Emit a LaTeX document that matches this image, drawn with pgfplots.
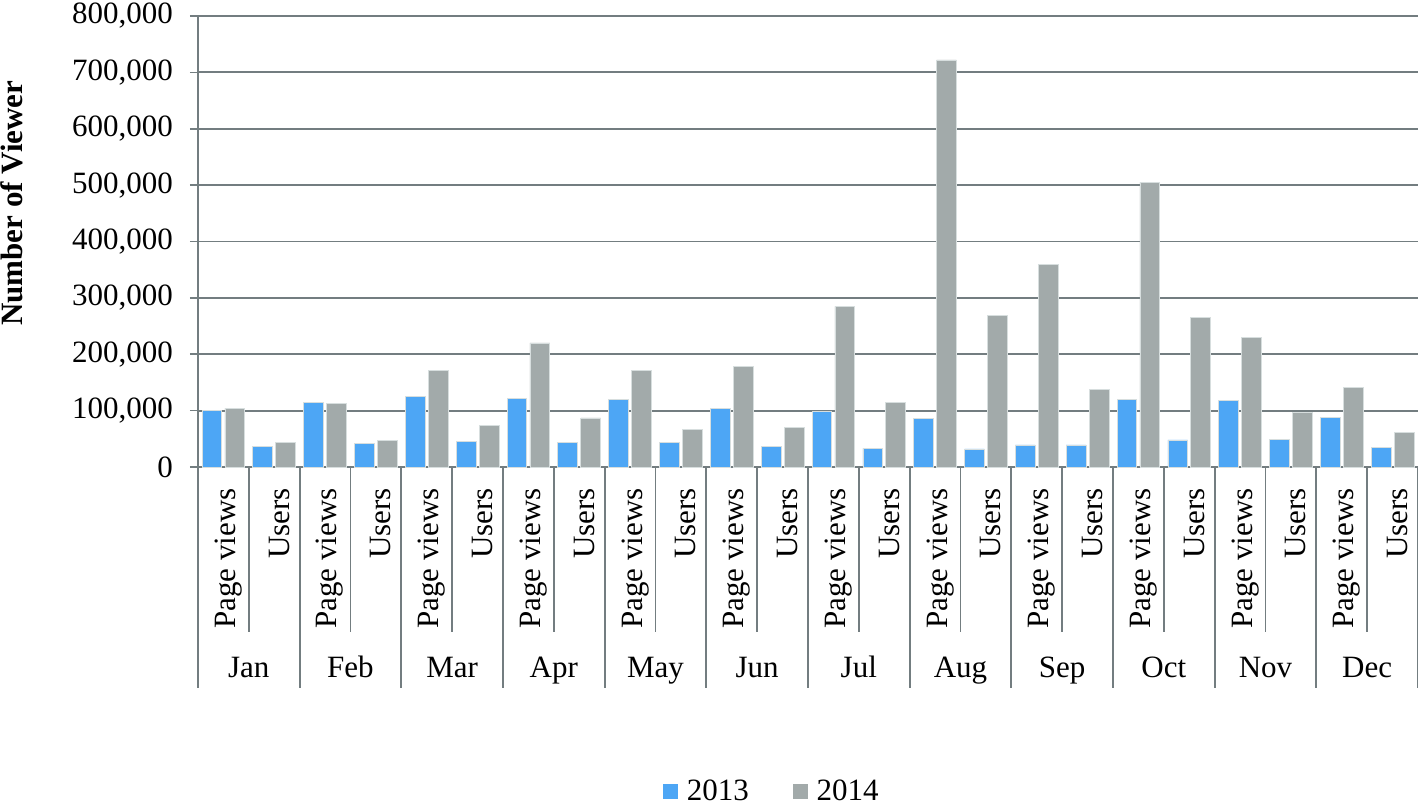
\documentclass[border=0pt]{standalone}
\usepackage{fontspec}
\setmainfont{Liberation Serif}
\usepackage{pgfplots}
\pgfplotsset{compat=1.18}
\definecolor{cblue}{RGB}{77,166,245}
\definecolor{cgray}{RGB}{162,170,170}
\definecolor{cgrid}{RGB}{115,125,128}
\definecolor{cedge}{RGB}{215,222,222}
\begin{document}
\begin{tikzpicture}[font=\fontsize{15.5}{18}\selectfont]
\begin{axis}[
  width=610pt, height=225.5pt, scale only axis,
  clip=false,
  xmin=-0.5, xmax=23.5, ymin=0, ymax=800000,
  ybar, bar width=0.39,
  axis x line*=bottom, axis y line*=left,
  axis line style={cgrid, line width=0.9pt},
  xtick={0,...,23},
  xticklabels={Page views,Users,Page views,Users,Page views,Users,Page views,Users,Page views,Users,Page views,Users,Page views,Users,Page views,Users,Page views,Users,Page views,Users,Page views,Users,Page views,Users},
  xtick style={draw=none},
  xticklabel style={rotate=90, anchor=east, inner sep=0pt, xshift=-6.5pt, yshift=-2.5pt},
  ytick={0,100000,...,800000},
  ytick style={cgrid, line width=0.8pt},
  tick align=outside, major tick length=4pt,
  scaled y ticks=false,
  /pgf/number format/assume math mode=true,
  yticklabel style={/pgf/number format/fixed, /pgf/number format/1000 sep={,}, xshift=-5pt},
  ymajorgrids, grid style={cgrid, line width=0.9pt},
  legend columns=2,
  legend style={draw=none, fill=none, at={(0.376,-0.72)}, anchor=west,
    /tikz/every even column/.append style={column sep=20pt}},
]
\addplot[fill=cblue, draw=cedge, line width=0.4pt, bar shift=-0.225, forget plot] coordinates {
(0,100000)(1,36000)(2,114000)(3,41000)(4,125000)(5,46000)(6,121000)(7,43000)
(8,120000)(9,44000)(10,104000)(11,37000)(12,98000)(13,33000)(14,86000)(15,32000)
(16,39000)(17,39000)(18,120000)(19,48000)(20,118000)(21,49000)(22,88000)(23,35000)};
\addplot[fill=cgray, draw=cedge, line width=0.4pt, bar shift=0.225, forget plot] coordinates {
(0,104000)(1,43000)(2,113000)(3,47000)(4,172000)(5,74000)(6,220000)(7,87000)
(8,172000)(9,66000)(10,179000)(11,70000)(12,285000)(13,115000)(14,722000)(15,269000)
(16,360000)(17,137000)(18,505000)(19,265000)(20,230000)(21,97000)(22,141000)(23,61000)};
\addlegendimage{legend image code/.code={\fill[cblue] (0pt,-3.5pt) rectangle (7pt,3.5pt); \path (9.5pt,0pt);}}
\addlegendentry{2013}
\addlegendimage{legend image code/.code={\fill[cgray] (0pt,-3.5pt) rectangle (7pt,3.5pt); \path (9.5pt,0pt);}}
\addlegendentry{2014}
\pgfplotsinvokeforeach{0,...,12}{
  \draw[cgrid, line width=0.9pt] (axis cs:{2*#1-0.5},0) -- ([yshift=-110.5pt]axis cs:{2*#1-0.5},0);
}
\pgfplotsinvokeforeach{0,...,11}{
  \draw[cgrid, line width=0.9pt] (axis cs:{2*#1+0.5},0) -- ([yshift=-82.5pt]axis cs:{2*#1+0.5},0);
}
\node[anchor=base] at ([yshift=-105.5pt]axis cs:0.5,0) {Jan};
\node[anchor=base] at ([yshift=-105.5pt]axis cs:2.5,0) {Feb};
\node[anchor=base] at ([yshift=-105.5pt]axis cs:4.5,0) {Mar};
\node[anchor=base] at ([yshift=-105.5pt]axis cs:6.5,0) {Apr};
\node[anchor=base] at ([yshift=-105.5pt]axis cs:8.5,0) {May};
\node[anchor=base] at ([yshift=-105.5pt]axis cs:10.5,0) {Jun};
\node[anchor=base] at ([yshift=-105.5pt]axis cs:12.5,0) {Jul};
\node[anchor=base] at ([yshift=-105.5pt]axis cs:14.5,0) {Aug};
\node[anchor=base] at ([yshift=-105.5pt]axis cs:16.5,0) {Sep};
\node[anchor=base] at ([yshift=-105.5pt]axis cs:18.5,0) {Oct};
\node[anchor=base] at ([yshift=-105.5pt]axis cs:20.5,0) {Nov};
\node[anchor=base] at ([yshift=-105.5pt]axis cs:22.5,0) {Dec};
\node[rotate=90, font=\bfseries\fontsize{15.5}{18}\selectfont] at ([xshift=-93pt]axis description cs:0,0.585) {Number of Viewer};
\coordinate (SW) at (axis description cs:0,0);
\coordinate (NE) at (axis description cs:1,1);
\end{axis}
\pgfresetboundingbox
\path ([shift={(-99pt,-170pt)}]SW) rectangle ([shift={(0pt,8pt)}]NE);
\end{tikzpicture}
\end{document}
